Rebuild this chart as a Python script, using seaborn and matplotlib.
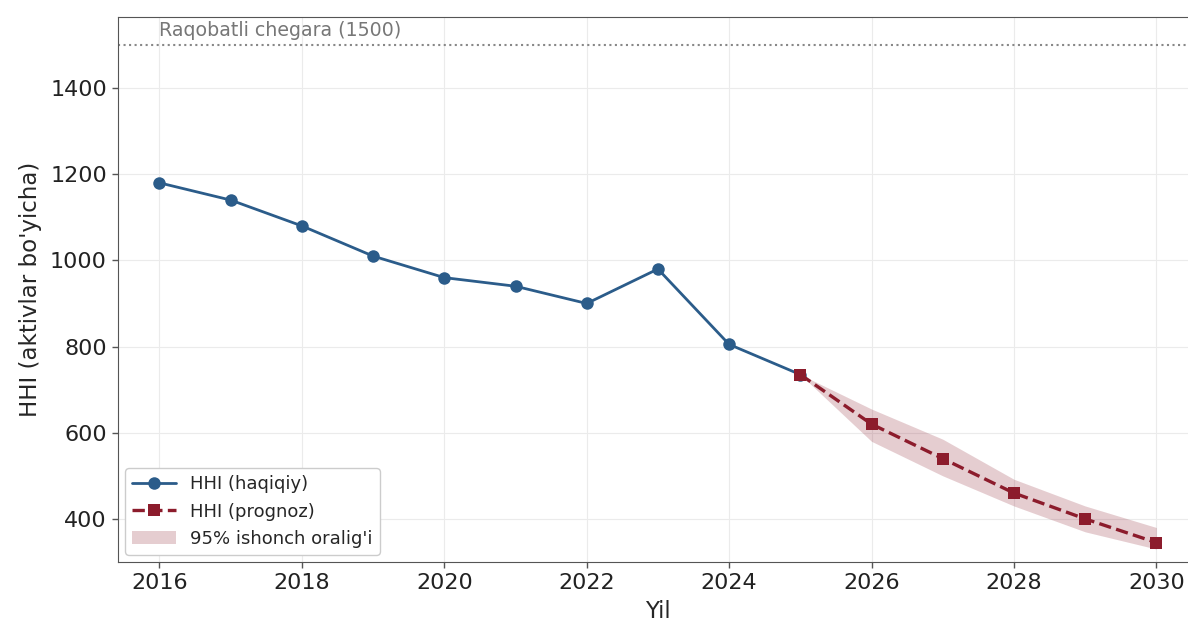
import numpy as np
import pandas as pd
import matplotlib
matplotlib.use("Agg")
import matplotlib.pyplot as plt
import seaborn as sns

# =======================
# Data
# =======================
years_actual = [2016, 2017, 2018, 2019, 2020, 2021, 2022, 2023, 2024, 2025]
hhi_actual = [1180, 1140, 1080, 1010, 960, 940, 900, 980, 805, 735]

years_fc = [2025, 2026, 2027, 2028, 2029, 2030]
hhi_fc = [735, 620, 540, 460, 400, 345]
ci_low = [735, 580, 500, 430, 370, 330]
ci_high = [735, 655, 585, 492, 430, 380]

threshold = 1500

blue = "#2b5c8a"
red = "#8c1c2c"

sns.set_style("whitegrid", {"axes.edgecolor": "#555555", "grid.color": "#ebebeb"})
plt.rcParams["font.family"] = ["DejaVu Sans"]

fig = plt.figure(figsize=(11.88, 6.24), dpi=100)
ax = fig.add_axes([0.0993, 0.0994, 0.909, 0.8734])

actual = pd.DataFrame({"year": years_actual, "hhi": hhi_actual})
fc = pd.DataFrame({"year": years_fc, "hhi": hhi_fc})

ax.fill_between(years_fc, ci_low, ci_high, color=red, alpha=0.22, lw=0,
                label="95% ishonch oralig'i")
sns.lineplot(data=actual, x="year", y="hhi", ax=ax, color=blue, lw=2,
             marker="o", markersize=9, markeredgewidth=0, label="HHI (haqiqiy)")
sns.lineplot(data=fc, x="year", y="hhi", ax=ax, color=red, lw=2.4,
             linestyle="--", marker="s", markersize=9,
             markeredgewidth=0, label="HHI (prognoz)")

ax.axhline(threshold, color="#888888", ls=":", lw=1.5)
ax.text(2016, threshold + 12, "Raqobatli chegara (1500)", color="#777777",
        fontsize=13.7, va="bottom")

ax.set_xlim(2015.417, 2030.583)
ax.set_ylim(300, 1565)
ax.set_xticks(range(2016, 2031, 2))
ax.set_yticks(range(400, 1401, 200))
ax.tick_params(axis="both", labelsize=16, length=4, width=1, color="#555555",
               labelcolor="#222222", bottom=True, left=True, pad=4)
ax.set_xlabel("Yil", fontsize=16.5, labelpad=5)
ax.set_ylabel("HHI (aktivlar bo'yicha)", fontsize=16.5, labelpad=6)

handles, labels = ax.get_legend_handles_labels()
order = [labels.index("HHI (haqiqiy)"), labels.index("HHI (prognoz)"),
         labels.index("95% ishonch oralig'i")]
ax.legend([handles[i] for i in order], [labels[i] for i in order],
          loc="lower left", fontsize=13, frameon=True, framealpha=1,
          edgecolor="#cccccc", fancybox=True, borderaxespad=0.4,
          handlelength=2.4)

fig.savefig("out.png", dpi=100)
